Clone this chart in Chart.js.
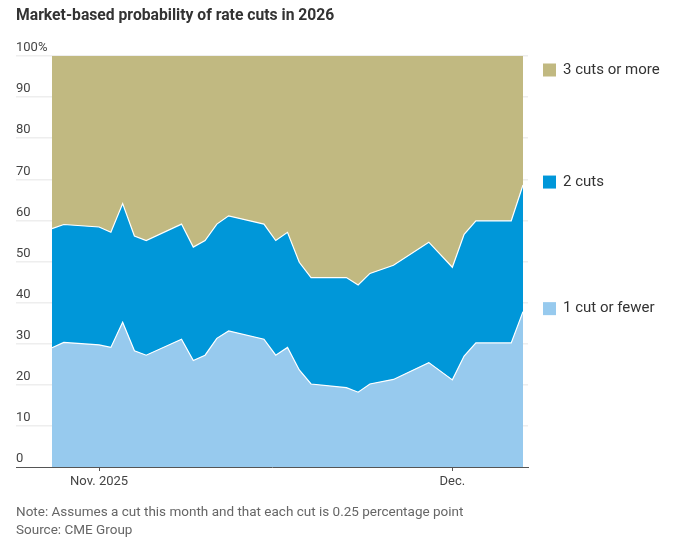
<!DOCTYPE html>
<html>
<head>
<meta charset="utf-8">
<script src="https://cdn.jsdelivr.net/npm/chart.js@4/dist/chart.umd.min.js"></script>
<style>
  html, body { margin: 0; padding: 0; background: #fff; width: 674px; height: 547px; overflow: hidden; }
  #wrap { position: relative; width: 674px; height: 547px; }
  canvas { position: absolute; left: 0; top: 0; }
  .title { position: absolute; left: 16px; top: 5px; font: bold 15.7px "Roboto", "Liberation Sans", sans-serif; color: #333; white-space: nowrap; }
  .note { position: absolute; left: 16px; font: 13.5px "Roboto", "Liberation Sans", sans-serif; color: #666; white-space: nowrap; }
</style>
</head>
<body>
<div id="wrap">
  <canvas id="c" width="674" height="547"></canvas>
  <div class="title">Market-based probability of rate cuts in 2026</div>
  <div class="note" style="top:503px">Note: Assumes a cut this month and that each cut is 0.25 percentage point</div>
  <div class="note" style="top:521px">Source: CME Group</div>
</div>
<script>
// ---- Data (percent probabilities) ----
const dates = ['2025-10-30','2025-10-31','2025-11-03','2025-11-04','2025-11-05','2025-11-06','2025-11-07',
  '2025-11-10','2025-11-11','2025-11-12','2025-11-13','2025-11-14','2025-11-17','2025-11-18','2025-11-19',
  '2025-11-20','2025-11-21','2025-11-24','2025-11-25','2025-11-26','2025-11-28','2025-12-01','2025-12-03',
  '2025-12-04','2025-12-05','2025-12-08','2025-12-09'];
const oneCutOrFewer = [29.0,30.3,29.7,29.1,35.2,28.3,27.2,31.1,25.9,27.2,31.3,33.1,31.1,27.2,29.1,23.6,20.2,19.3,18.2,20.2,21.3,25.4,21.2,27.0,30.2,30.2,37.8];
const twoCuts       = [29.0,28.7,28.7,28.0,28.9,27.9,27.9,28.0,27.6,27.9,27.8,28.0,28.0,27.9,28.0,26.2,25.9,26.8,26.1,26.9,27.8,29.3,27.4,29.6,29.7,29.7,30.8];
const threeOrMore   = [42.0,41.0,41.6,42.9,35.9,43.8,44.9,40.9,46.5,44.9,40.9,38.9,40.9,44.9,42.9,50.2,53.9,53.9,55.7,52.9,50.9,45.3,51.4,43.4,40.1,40.1,31.4];
const seriesNames   = ['1 cut or fewer','2 cuts','3 cuts or more'];
const seriesColors  = ['#97caee','#0097d9','#c1b981'];
const xTickDates    = ['2025-11-03','2025-12-03'];
const xTickLabels   = ['Nov. 2025','Dec.'];
const yTicks        = [0,10,20,30,40,50,60,70,80,90,100];

// day offsets from first date
const DAY = 86400000;
const t0 = Date.parse(dates[0] + 'T00:00:00Z');
const dayOf = d => Math.round((Date.parse(d + 'T00:00:00Z') - t0) / DAY);
const xs = dates.map(dayOf);
const xTickVals = xTickDates.map(dayOf);
const lastX = xs[xs.length - 1];
// plot geometry: data spans 52..523px inside a 16..528px area
const span = lastX;
const pxPerDay = (523 - 52) / span;
const xMin = -(52 - 16) / pxPerDay;
const xMax = lastX + (528 - 523) / pxPerDay;

const mk = arr => arr.map((v, i) => ({ x: xs[i], y: v }));
const allSeries = [oneCutOrFewer, twoCuts, threeOrMore];

const labelFont = '"Roboto", "Liberation Sans", sans-serif';

const legendPlugin = {
  id: 'bandLegend',
  afterDraw(chart) {
    const ctx = chart.ctx;
    const y = chart.scales.y;
    const top = chart.chartArea.top;
    let cum = 0;
    const n = xs.length - 1;
    ctx.save();
    ctx.font = '15px ' + labelFont;
    ctx.textBaseline = 'middle';
    ctx.textAlign = 'left';
    for (let s = 0; s < allSeries.length; s++) {
      cum += allSeries[s][n];
      const py = Math.max(y.getPixelForValue(cum) - 3, top + 14);
      ctx.fillStyle = seriesColors[s];
      ctx.fillRect(543, py - 6.5, 13, 13);
      ctx.fillStyle = '#333';
      ctx.fillText(seriesNames[s], 563, py);
    }
    ctx.restore();
  }
};

new Chart(document.getElementById('c'), {
  type: 'line',
  data: {
    datasets: allSeries.map((arr, i) => ({
      label: seriesNames[i],
      data: mk(arr),
      backgroundColor: seriesColors[i],
      borderColor: '#ffffff',
      borderWidth: i === 2 ? 0 : 1.2,
      fill: i === 0 ? 'origin' : '-1',
      pointRadius: 0,
      tension: 0
    }))
  },
  options: {
    responsive: false,
    animation: false,
    events: [],
    layout: { padding: { left: 16, right: 146, top: 56, bottom: 0 } },
    plugins: { legend: { display: false }, tooltip: { enabled: false }, title: { display: false } },
    scales: {
      x: {
        type: 'linear',
        min: xMin, max: xMax,
        z: 1,
        afterFit: s => { s.height = 80; },
        afterBuildTicks: s => { s.ticks = xTickVals.map(v => ({ value: v })); },
        ticks: {
          autoSkip: false, maxRotation: 0, padding: 3,
          color: '#444', font: { family: labelFont, size: 13 },
          callback: (v) => { const k = xTickVals.indexOf(v); return k >= 0 ? xTickLabels[k] : ''; }
        },
        grid: { drawOnChartArea: false, drawTicks: true, tickLength: 4, color: '#555', tickWidth: 1 },
        border: { display: true, color: '#555', width: 1 }
      },
      y: {
        stacked: true,
        min: 0, max: 100,
        z: 1,
        afterFit: s => { s.width = 0; },
        afterBuildTicks: s => { s.ticks = yTicks.map(v => ({ value: v })); },
        ticks: {
          mirror: true, padding: 0, labelOffset: -8,
          color: '#444', font: { family: labelFont, size: 13 },
          callback: v => v === 100 ? '100%' : String(v)
        },
        grid: {
          drawTicks: false,
          lineWidth: 1.5,
          color: c => c.tick && c.tick.value === 0 ? 'rgba(0,0,0,0)' : 'rgba(232,232,232,0.75)'
        },
        border: { display: false }
      }
    }
  },
  plugins: [legendPlugin]
});
</script>
</body>
</html>
